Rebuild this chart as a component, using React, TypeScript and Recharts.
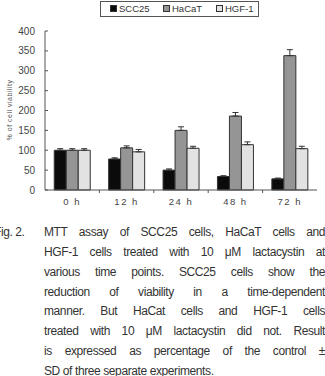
import { BarChart, Bar, XAxis, YAxis, ErrorBar } from "recharts";

const timePoints = ["0 h", "12 h", "24 h", "48 h", "72 h"];
const scc25 = [100, 78, 50, 34, 28];
const scc25Sd = [4, 3, 3, 2, 2];
const hacat = [100, 106, 150, 186, 338];
const hacatSd = [4, 5, 9, 9, 15];
const hgf1 = [100, 96, 105, 114, 104];
const hgf1Sd = [4, 6, 5, 7, 6];
const yTicks = [0, 50, 100, 150, 200, 250, 300, 350, 400];

const series = [
  { key: "scc25", name: "SCC25", fill: "#0b0b0b" },
  { key: "hacat", name: "HaCaT", fill: "#959595" },
  { key: "hgf1", name: "HGF-1", fill: "#e2e2e2" },
];

const captionLines = [
  "MTT assay of SCC25 cells, HaCaT cells and",
  "HGF-1 cells treated with 10 μM lactacystin at",
  "various time points. SCC25 cells show the",
  "reduction of viability in a time-dependent",
  "manner. But HaCat cells and HGF-1 cells",
  "treated with 10 μM lactacystin did not. Result",
  "is expressed as percentage of the control ±",
  "SD of three separate experiments.",
];

const data = timePoints.map((t, i) => ({
  time: t,
  scc25: scc25[i],
  scc25Err: [0, scc25Sd[i]],
  hacat: hacat[i],
  hacatErr: [0, hacatSd[i]],
  hgf1: hgf1[i],
  hgf1Err: [0, hgf1Sd[i]],
}));

const FONT = "'Liberation Sans', Arial, sans-serif";
const PLOT_LEFT = 45;
const PLOT_RIGHT = 317;
const BAND = (PLOT_RIGHT - PLOT_LEFT) / timePoints.length;

function YTick({ x, y, payload }: any) {
  return (
    <g>
      <line x1={PLOT_LEFT} x2={PLOT_LEFT + 3} y1={y} y2={y} stroke="#555" />
      <text x={x} y={y} dy={3.5} textAnchor="end" fontSize={10} fill="#444" fontFamily={FONT}>
        {payload.value}
      </text>
    </g>
  );
}

function XTick({ x, y, payload, index }: any) {
  const edge = x + BAND / 2;
  return (
    <g>
      {index < timePoints.length - 1 && (
        <line x1={edge} x2={edge} y1={y - 12} y2={y - 9} stroke="#555" />
      )}
      <text x={x} y={y} dy={3} textAnchor="middle" fontSize={9.5} fill="#444" fontFamily={FONT} letterSpacing={1.5}>
        {payload.value}
      </text>
    </g>
  );
}

function LegendBox() {
  return (
    <div
      style={{
        position: "absolute",
        left: 100,
        top: 1,
        width: 157,
        height: 14,
        border: "1px solid #555",
        fontFamily: FONT,
        fontSize: 9.5,
        color: "#333",
      }}
    >
      {series.map((s, i) => (
        <div
          key={s.key}
          style={{ position: "absolute", left: 9 + i * 53, top: 1, display: "flex", alignItems: "center" }}
        >
          <span
            style={{
              display: "inline-block",
              width: 5,
              height: 5,
              background: s.fill,
              border: "1px solid #333",
              marginRight: 2,
            }}
          />
          {s.name}
        </div>
      ))}
    </div>
  );
}

function YLabel() {
  return (
    <text
      x={12}
      y={110}
      transform="rotate(-90 12 110)"
      textAnchor="middle"
      fontSize={7}
      fill="#555"
      fontFamily={FONT}
      letterSpacing={0.5}
    >
      % of cell viability
    </text>
  );
}

export default function App() {
  return (
    <div style={{ position: "absolute", left: 0, top: 0, width: 325, height: 376, background: "#fff", overflow: "hidden" }}>
      <LegendBox />
      <BarChart
        width={325}
        height={215}
        data={data}
        margin={{ top: 31, right: 8, bottom: 0, left: 0 }}
        barCategoryGap="17%"
        barGap={0}
      >
        <XAxis
          dataKey="time"
          height={25}
          tickLine={false}
          axisLine={{ stroke: "#555" }}
          tick={<XTick />}
          tickMargin={6}
        />
        <YAxis
          width={45}
          domain={[0, 400]}
          ticks={yTicks}
          interval={0}
          tickLine={false}
          tickSize={0}
          tickMargin={10}
          axisLine={{ stroke: "#555" }}
          tick={<YTick />}
        />
        {series.map((s) => (
          <Bar
            key={s.key}
            dataKey={s.key}
            name={s.name}
            fill={s.fill}
            stroke="#333"
            strokeWidth={1}
            isAnimationActive={false}
          >
            <ErrorBar dataKey={`${s.key}Err`} width={3} stroke="#333" strokeWidth={1} />
          </Bar>
        ))}
        <YLabel />
      </BarChart>
      <div
        style={{
          position: "absolute",
          left: 0,
          top: 223,
          width: 325,
          fontFamily: FONT,
          fontSize: 12,
          letterSpacing: -0.4,
          color: "#333",
        }}
      >
        {captionLines.map((line, i) => (
          <div
            key={i}
            style={{
              position: "relative",
              marginLeft: 44,
              height: 19.85,
              lineHeight: "19.85px",
              textAlign: "justify",
              textAlignLast: i === captionLines.length - 1 ? "left" : "justify",
              whiteSpace: "nowrap",
            }}
          >
            {i === 0 && <span style={{ position: "absolute", left: -50 }}>Fig. 2.</span>}
            {line}
          </div>
        ))}
      </div>
    </div>
  );
}
